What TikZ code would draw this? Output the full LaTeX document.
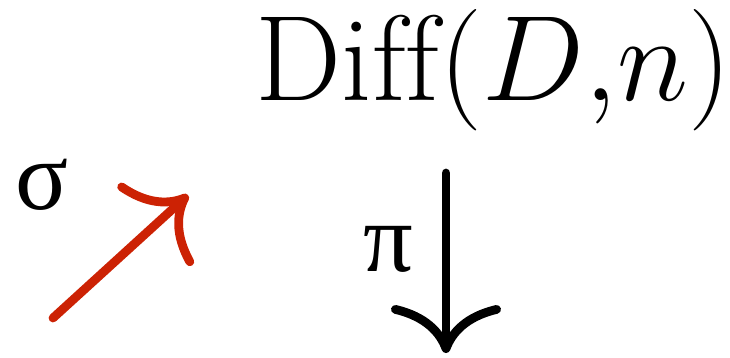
\documentclass[tikz,border=0pt]{standalone}
\usepackage{fontspec}
\newfontfamily\greekfont{Liberation Serif}
\usetikzlibrary{arrows.meta, positioning}
\definecolor{sigmared}{RGB}{204,34,4}

\begin{document}
\begin{tikzpicture}[
    space/.style={inner sep=0pt, font=\Huge, scale=1.39},
    maplabel/.style={inner sep=0pt, font=\fontsize{28}{28}\selectfont\greekfont},
    maparrow/.style={line width=2.5pt, line cap=round, -{Computer Modern Rightarrow[length=4.8mm, width=11mm]}}
]
    \useasboundingbox (0,0) rectangle (7.30,-3.57);

    \node[space, anchor=base west] (diff) at (2.55,-1.00) {$\mathrm{Diff}(D{,}n)$};

    % section sigma, drawn in red
    \coordinate (sigmatail) at (0.53,-3.18);
    \coordinate (sigmahead) at (1.88,-1.95);
    \node[maplabel] (sigma) at (0.42,-1.85) {σ};
    \draw[maparrow, draw=sigmared] (sigmatail) -- (sigmahead);

    % projection pi
    \coordinate (pitop) at (4.46,-1.73);
    \coordinate (pibottom) at (4.46,-3.53);
    \node[maplabel] (pi) at (3.88,-2.49) {π};
    \draw[maparrow] (pitop) -- (pibottom);
\end{tikzpicture}
\end{document}
